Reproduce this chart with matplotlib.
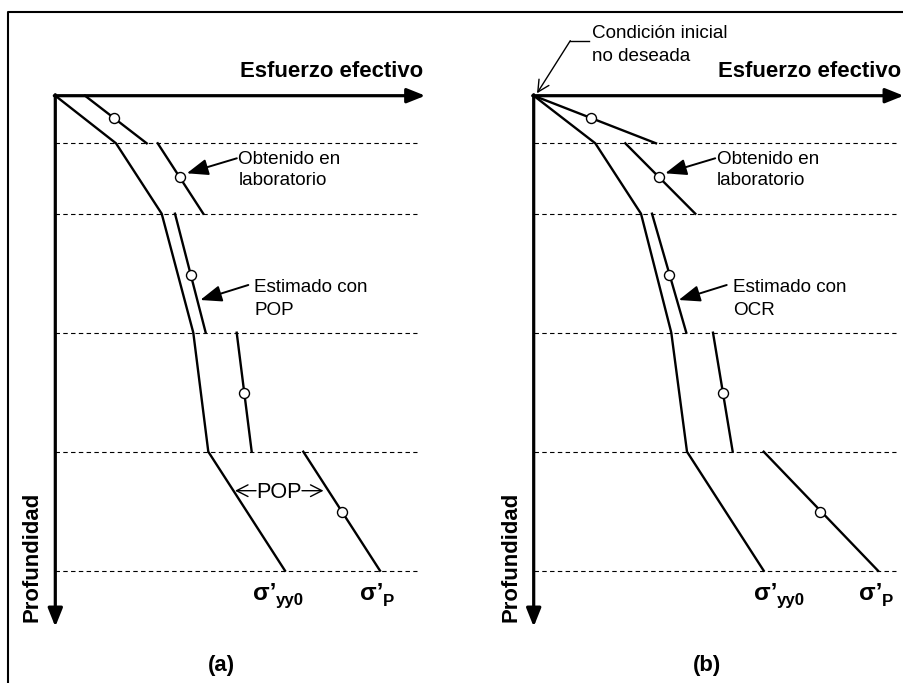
import matplotlib.pyplot as plt

plt.rcParams['font.family'] = ['Liberation Sans', 'DejaVu Sans']
plt.rcParams['lines.scale_dashes'] = False

# depths of the layer boundaries (px below the stress axis)
LAYER_DEPTHS = [0, 47.6, 118, 237, 356, 475]
CIRCLE_DEPTHS = [22, 81.6, 179.6, 297, 416.6]

# panel (a): initial stress profile and POP estimated preconsolidation
LOWER_A = [0, 60.7, 106.4, 138, 153, 229.7]
UPPER_A_TOP = [29.7, 102.4, 119.7, 181.4, 248]
UPPER_A_BOTTOM = [91.4, 148, 150.4, 196.4, 324.7]
CIRCLES_A = [58.5, 125, 135.4, 188.7, 287]

# panel (b): same profile, OCR estimated preconsolidation
LOWER_B = [0, 61.6, 107.3, 137.6, 153.3, 230]
UPPER_B_TOP = [0, 91.6, 118.3, 179.3, 230]
UPPER_B_BOTTOM = [122.3, 161.6, 152.6, 199, 344.3]
CIRCLES_B = [57.5, 125.6, 135.6, 189, 286.6]

ORIGIN_A = (55.3, 95.7)
ORIGIN_B = (533.7, 95.7)


def draw_panel(ax, origin, lower, top, bottom, circles, axis_len, estimate,
               sig_x, letter, letter_x, prof_x):
    x0, y0 = origin
    # axes with arrows
    axis_head = dict(arrowstyle='-|>,head_length=0.55,head_width=0.22',
                     lw=2.3, color='black', shrinkA=0, shrinkB=0,
                     mutation_scale=20)
    ax.annotate('', xy=(x0 + axis_len, y0), xytext=(x0 - 1, y0),
                arrowprops=axis_head)
    ax.annotate('', xy=(x0, y0 + 531), xytext=(x0, y0 - 1),
                arrowprops=axis_head)
    # layer boundaries
    for d in LAYER_DEPTHS[1:]:
        ax.plot([x0, x0 + 362], [y0 + d, y0 + d], color='black', lw=0.8,
                dashes=(3.2, 2.4))
    # initial effective stress
    ax.plot([x0 + s for s in lower], [y0 + d for d in LAYER_DEPTHS],
            color='black', lw=1.7, solid_joinstyle='miter')
    # preconsolidation segments
    for i in range(len(top)):
        ax.plot([x0 + top[i], x0 + bottom[i]],
                [y0 + LAYER_DEPTHS[i], y0 + LAYER_DEPTHS[i + 1]],
                color='black', lw=1.7)
    ax.plot([x0 + c for c in circles], [y0 + d for d in CIRCLE_DEPTHS],
            'o', ms=7.2, mfc='white', mec='black', mew=1.0, zorder=5)

    ax.text(x0 + axis_len - 2.5, 76.7, 'Esfuerzo efectivo', ha='right',
            va='baseline', fontsize=15.9, fontweight='bold')
    ax.text(prof_x, 622, 'Profundidad', rotation=90, rotation_mode='anchor',
            ha='left', va='baseline', fontsize=15.9, fontweight='bold')

    head = dict(arrowstyle='-|>,head_length=0.65,head_width=0.25', lw=1.4,
                color='black', shrinkA=0, shrinkB=0, mutation_scale=20)
    ax.annotate('', xy=(x0 + 131.5, y0 + 77.6), xytext=(x0 + 181.5, y0 + 62.6),
                arrowprops=head)
    ax.text(x0 + 183, 164, 'Obtenido en', fontsize=13.6, va='baseline')
    ax.text(x0 + 183, 185, 'laboratorio', fontsize=13.6, va='baseline')
    ax.annotate('', xy=(x0 + 145, y0 + 204.3), xytext=(x0 + 193, y0 + 189.3),
                arrowprops=head)
    ax.text(x0 + 199, 291.7, 'Estimado con', fontsize=13.6, va='baseline')
    ax.text(x0 + 199, 315, estimate, fontsize=13.6, va='baseline')

    # stress labels
    for sx, sub in zip(sig_x, ['yy0', 'P']):
        ax.text(x0 + sx, 600, 'σ’', fontsize=17.5, fontweight='bold',
                va='baseline')
        ax.text(x0 + sx + 23, 605.5, sub, fontsize=12.2, fontweight='bold',
                va='baseline')
    ax.text(letter_x, 671, letter, ha='center', va='baseline',
            fontsize=15.9, fontweight='bold')


fig = plt.figure(figsize=(9.04, 6.83), dpi=100)
ax = fig.add_axes([0, 0, 1, 1])
ax.set_xlim(0, 904)
ax.set_ylim(683, 0)
ax.axis('off')

# frame
ax.plot([8, 8, 904], [683, 12, 12], color='black', lw=1.5)

draw_panel(ax, ORIGIN_A, LOWER_A, UPPER_A_TOP, UPPER_A_BOTTOM, CIRCLES_A,
           370, 'POP', [197.7, 304.7], '(a)', 221.7, 37.3)
draw_panel(ax, ORIGIN_B, LOWER_B, UPPER_B_TOP, UPPER_B_BOTTOM, CIRCLES_B,
           370, 'OCR', [220, 325.6], '(b)', 707, 517)

# POP distance in panel (a)
ax.text(279, 497.7, 'POP', ha='center', va='baseline', fontsize=15.6)
thin = dict(arrowstyle='->,head_length=0.55,head_width=0.28', lw=1.0,
            color='black', shrinkA=0, shrinkB=0, mutation_scale=15)
ax.annotate('', xy=(235, 490.7), xytext=(256, 490.7), arrowprops=thin)
ax.annotate('', xy=(323.5, 490.7), xytext=(302, 490.7), arrowprops=thin)

# undesired initial condition in panel (b)
ax.plot([588.7, 570.3], [40.7, 40.7], color='black', lw=1.0)
ax.annotate('', xy=(537, 93.3), xytext=(570.3, 40.7), arrowprops=thin)
ax.text(592, 38.3, 'Condición inicial', fontsize=13.6, va='baseline')
ax.text(592, 60.7, 'no deseada', fontsize=13.6, va='baseline')

fig.savefig('out.png', dpi=100)
